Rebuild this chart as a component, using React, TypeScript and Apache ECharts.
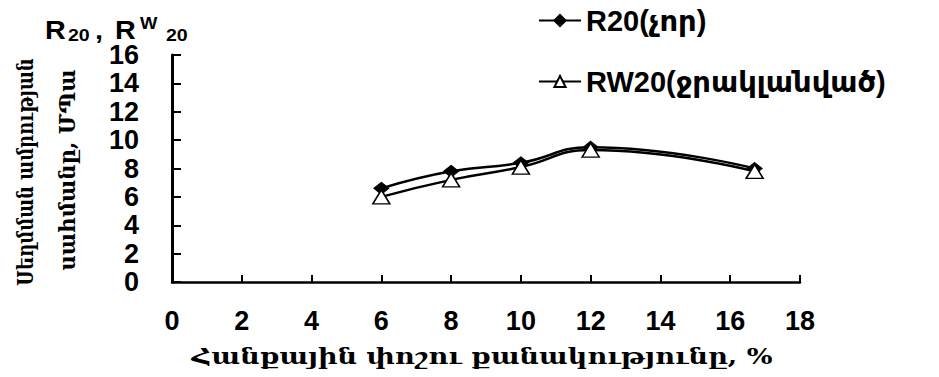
import React, { useEffect, useRef } from "react";
import * as echarts from "echarts";

const dust = [6, 8, 10, 12, 16.7];
const r20 = [6.6, 7.8, 8.4, 9.5, 8.0];
const rw20 = [6.0, 7.2, 8.1, 9.3, 7.8];
const xTicks = [0, 2, 4, 6, 8, 10, 12, 14, 16, 18];
const yTicks = [0, 2, 4, 6, 8, 10, 12, 14, 16];
const seriesNames = ["R20(չոր)", "RW20(ջրակլանված)"];
const xTitle = "Հանքային փոշու քանակությունը, %";
const yTitle1 = "Սեղմման ամրության";
const yTitle2 = "սահմանը, ՄՊա";

const SANS = "'Liberation Sans', Arial, 'DejaVu Sans', sans-serif";
const SERIF = "'DejaVu Serif', 'Liberation Serif', serif";

export default function App() {
  const ref = useRef<HTMLDivElement>(null);
  useEffect(() => {
    if (!ref.current) return;
    const chart = echarts.init(ref.current, null, { renderer: "svg" });
    const toPairs = (ys: number[]) => dust.map((x, i) => [x, ys[i]]);
    const piece = (text: string, x: number, y: number, size: number) => ({
      type: "text",
      x,
      y,
      scaleX: 1.15,
      style: { text, font: `bold ${size}px ${SANS}`, fill: "#000", align: "left", verticalAlign: "middle" },
    });
    chart.setOption({
      animation: false,
      backgroundColor: "#ffffff",
      grid: { left: 172, top: 55, right: 139, bottom: 95, containLabel: false },
      legend: {
        orient: "vertical",
        left: 538,
        top: 6,
        padding: 0,
        itemWidth: 42,
        itemHeight: 14,
        itemGap: 32,
        textStyle: { fontFamily: SANS, fontSize: 29, fontWeight: "bold", color: "#000" },
        data: seriesNames,
      },
      xAxis: {
        type: "value",
        min: 0,
        max: 18,
        interval: 2,
        axisLine: { show: true, lineStyle: { color: "#000", width: 2.5 } },
        axisTick: { show: true, inside: true, length: 7, lineStyle: { color: "#000", width: 2 } },
        splitLine: { show: false },
        axisLabel: {
          margin: 25,
          fontFamily: SANS,
          fontSize: 27,
          fontWeight: "bold",
          color: "#000",
          formatter: (v: number) => (xTicks.includes(v) ? String(v) : ""),
        },
      },
      yAxis: {
        type: "value",
        min: 0,
        max: 16,
        interval: 2,
        axisLine: { show: true, lineStyle: { color: "#000", width: 3 } },
        axisTick: { show: true, inside: true, length: 9, lineStyle: { color: "#000", width: 2 } },
        splitLine: { show: false },
        axisLabel: {
          margin: 33,
          fontFamily: SANS,
          fontSize: 27,
          fontWeight: "bold",
          color: "#000",
          formatter: (v: number) => (yTicks.includes(v) ? String(v) : ""),
        },
      },
      series: [
        {
          name: seriesNames[0],
          type: "line",
          smooth: true,
          data: toPairs(r20),
          symbol: "diamond",
          symbolSize: [15, 12],
          lineStyle: { color: "#000", width: 2.5 },
          itemStyle: { color: "#000", borderColor: "#000", borderWidth: 1 },
        },
        {
          name: seriesNames[1],
          type: "line",
          smooth: true,
          data: toPairs(rw20),
          symbol: "triangle",
          symbolSize: [17, 14],
          lineStyle: { color: "#000", width: 2.5 },
          itemStyle: { color: "#fff", borderColor: "#000", borderWidth: 1.5 },
          z: 3,
        },
      ],
      graphic: [
        piece("R", 45, 31, 25),
        piece("20", 68, 35, 17),
        piece(",", 95, 31, 25),
        piece("R", 115, 31, 25),
        piece("W", 140, 23, 16),
        piece("20", 166, 35, 17),
        {
          type: "text",
          x: 25,
          y: 172,
          rotation: Math.PI / 2,
          scaleX: 0.78,
          style: { text: yTitle1, font: `bold 23px ${SERIF}`, fill: "#000", align: "center", verticalAlign: "middle" },
        },
        {
          type: "text",
          x: 67,
          y: 170,
          rotation: Math.PI / 2,
          scaleX: 0.92,
          style: { text: yTitle2, font: `bold 23px ${SERIF}`, fill: "#000", align: "center", verticalAlign: "middle" },
        },
        {
          type: "text",
          x: 482,
          y: 356,
          scaleX: 1.18,
          style: { text: xTitle, font: `bold 23px ${SERIF}`, fill: "#000", align: "center", verticalAlign: "middle" },
        },
      ],
    });
    return () => chart.dispose();
  }, []);
  return <div ref={ref} style={{ width: 939, height: 377, position: "absolute", left: 0, top: 0 }} />;
}
